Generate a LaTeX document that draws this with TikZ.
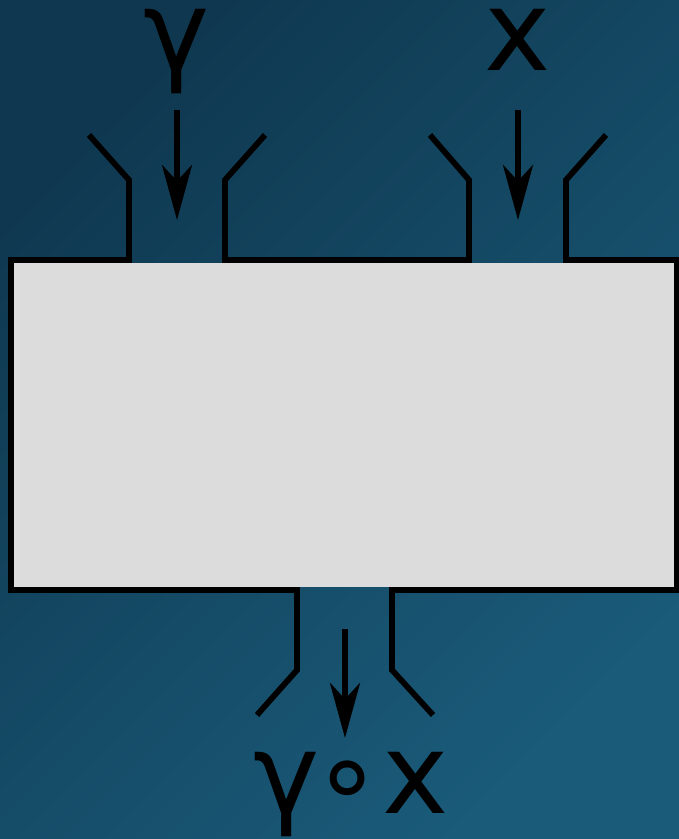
\documentclass[tikz,border=0pt]{standalone}
\usepackage{fontspec}
\usetikzlibrary{arrows.meta}
\newfontfamily\symfont{DejaVu Sans}
\definecolor{bgTL}{HTML}{0F3850}
\definecolor{bgBR}{HTML}{1A5B7A}
\definecolor{boxgray}{HTML}{DCDCDC}
\tikzset{
  wall/.style={line width=5.8pt, line join=miter, black},
  flow/.style={line width=5.8pt, black, -{Stealth[length=55pt, width=30pt, inset=16pt]}},
  lbl/.style={font=\symfont\fontsize{112}{112}\selectfont, inner sep=0pt,
              text height=60pt, text depth=0pt, anchor=base, text=black},
}
\begin{document}
\begin{tikzpicture}[x=1pt,y=-1pt]
  % background
  \shade[top color=bgTL, bottom color=bgBR, shading angle=45]
    (0,0) rectangle (679,839);
  \useasboundingbox (0,0) rectangle (679,839);

  % the box
  \fill[boxgray] (11,263) rectangle (677,587);

  % outline with three funnel openings
  \draw[wall] (89,135) -- (129,180) -- (129,260) -- (11,260) -- (11,590)
              -- (297,590) -- (297,670) -- (257,715);
  \draw[wall] (265,135) -- (225,180) -- (225,260) -- (469,260) -- (469,180) -- (430,135);
  \draw[wall] (606,135) -- (566,180) -- (566,260) -- (677,260) -- (677,590)
              -- (392,590) -- (392,670) -- (433,715);

  % labels
  \node[lbl] (gin) at (177,70) {γ};
  \node[lbl] (xin) at (518,70) {x};
  \node[lbl] (out) at (351,813) {γ\kern-8pt∘x};

  % flow arrows
  \coordinate (ga) at (177,110);
  \coordinate (gb) at (177,220);
  \coordinate (xa) at (518,110);
  \coordinate (xb) at (518,220);
  \coordinate (oa) at (345,629);
  \coordinate (ob) at (345,738);
  \draw[flow] (ga) -- (gb);
  \draw[flow] (xa) -- (xb);
  \draw[flow] (oa) -- (ob);
\end{tikzpicture}
\end{document}
